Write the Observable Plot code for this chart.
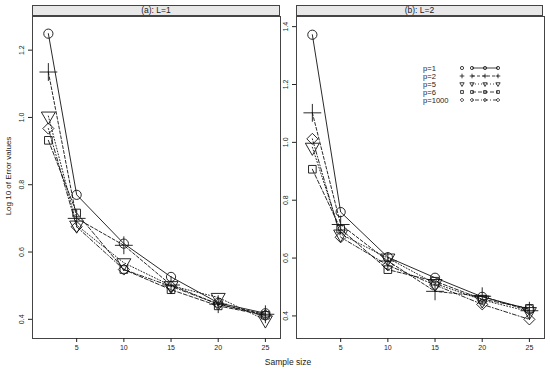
<!DOCTYPE html>
<html>
<head>
<meta charset="utf-8">
<script src="https://cdn.jsdelivr.net/npm/d3@7"></script>
<script src="https://cdn.jsdelivr.net/npm/@observablehq/plot@0.6"></script>
<style>
  html, body { margin: 0; padding: 0; background: #fff; }
  #wrap { position: relative; width: 550px; height: 371px; font-family: "Liberation Sans", Arial, sans-serif; color: #222; overflow: hidden; }
  .panel { position: absolute; top: 0; }
  .strip { position: absolute; top: 5px; height: 11px; background: #e8e8e8; border: 1px solid #444; box-sizing: border-box; font-size: 8.5px; line-height: 9px; text-align: center; }
  .ytitle { position: absolute; left: 8px; top: 176px; transform: translate(-50%, -50%) rotate(-90deg); font-size: 8px; white-space: nowrap; }
  .xtitle { position: absolute; left: 288px; top: 362px; transform: translate(-50%, -50%); font-size: 8.5px; white-space: nowrap; }
  #legend { position: absolute; left: 0; top: 0; }
</style>
</head>
<body>
<div id="wrap"></div>
<script>
// ---- data ----
const sampleSizes = [2, 5, 10, 15, 20, 25];
const seriesNames = ["p=1", "p=2", "p=5", "p=6", "p=1000"];
const panelTitles = ["(a): L=1", "(b): L=2"];
const xTicks = [5, 10, 15, 20, 25];
const yTicksA = [0.4, 0.6, 0.8, 1.0, 1.2];
const yTicksB = [0.4, 0.6, 0.8, 1.0, 1.2, 1.4];

// panel (a): L=1
const a_p1    = [1.249, 0.770, 0.625, 0.526, 0.449, 0.418];
const a_p2    = [1.135, 0.700, 0.620, 0.502, 0.445, 0.415];
const a_p5    = [1.004, 0.680, 0.568, 0.500, 0.465, 0.398];
const a_p6    = [0.932, 0.716, 0.548, 0.488, 0.440, 0.412];
const a_p1000 = [0.967, 0.675, 0.548, 0.498, 0.445, 0.412];

// panel (b): L=2
const b_p1    = [1.372, 0.759, 0.603, 0.532, 0.466, 0.423];
const b_p2    = [1.102, 0.716, 0.590, 0.485, 0.468, 0.418];
const b_p5    = [0.983, 0.683, 0.600, 0.512, 0.455, 0.415];
const b_p6    = [0.907, 0.700, 0.560, 0.520, 0.458, 0.426];
const b_p1000 = [1.012, 0.672, 0.575, 0.507, 0.440, 0.388];

// ---- styles per series ----
const styles = [
  { symbol: "circle",   r: 4.6, rotate: 0,   dash: null },
  { symbol: "plus",     r: 5.8, rotate: 0,   dash: "3,2" },
  { symbol: "triangle", r: 5.2, rotate: 180, dash: "1,2" },
  { symbol: "square",   r: 4.3, rotate: 0,   dash: "4,2" },
  { symbol: "diamond2", r: 5.0, rotate: 0,   dash: "1,2,4,2" }
];

function buildPanel(seriesValues, yDomain, yTicks, left, width) {
  const marks = [Plot.frame({ stroke: "#444" })];
  seriesValues.forEach((vals, i) => {
    const data = sampleSizes.map((x, j) => ({ x, y: vals[j], s: seriesNames[i] }));
    const st = styles[i];
    marks.push(Plot.line(data, { x: "x", y: "y", stroke: "#111", strokeWidth: 0.9, strokeDasharray: st.dash }));
    marks.push(Plot.dot(data, { x: "x", y: "y", symbol: () => st.symbol, r: st.r, rotate: st.rotate, stroke: "#111", strokeWidth: 0.9, fill: "none" }));
  });
  marks.push(Plot.axisX({ ticks: xTicks, tickSize: 4, tickPadding: 3, fontSize: 7 }));
  marks.push(Plot.axisY({ ticks: yTicks, tickFormat: d3.format(".1f"), tickSize: 4, tickPadding: 5, fontSize: 7, tickRotate: -90 }));
  const p = Plot.plot({
    width: width,
    height: 371,
    marginLeft: 32,
    marginRight: width - 32 - 248,
    marginTop: 16,
    marginBottom: 33,
    x: { domain: [0.32, 26.6], label: null },
    y: { domain: yDomain, label: null },
    symbol: { type: "identity" },
    style: { fontFamily: "Liberation Sans, Arial, sans-serif", color: "#222", background: "transparent", overflow: "visible" },
    marks
  });
  p.classList.add("panel");
  p.style.left = left + "px";
  return p;
}

const wrap = document.getElementById("wrap");
wrap.appendChild(buildPanel([a_p1, a_p2, a_p5, a_p6, a_p1000], [0.343, 1.30], yTicksA, 0, 285));
wrap.appendChild(buildPanel([b_p1, b_p2, b_p5, b_p6, b_p1000], [0.322, 1.435], yTicksB, 264, 286));

// strips
[[32, 248], [296, 247]].forEach(([l, w], i) => {
  const d = document.createElement("div");
  d.className = "strip";
  d.style.left = l + "px";
  d.style.width = w + "px";
  d.textContent = panelTitles[i];
  wrap.appendChild(d);
});

// axis titles
const yt = document.createElement("div");
yt.className = "ytitle"; yt.textContent = "Log 10 of Error values";
wrap.appendChild(yt);
const xt = document.createElement("div");
xt.className = "xtitle"; xt.textContent = "Sample size";
wrap.appendChild(xt);

// legend (inside panel b)
const lg = d3.select(wrap).append("svg").attr("id", "legend").attr("width", 550).attr("height", 371)
  .style("font-family", "Liberation Sans, Arial, sans-serif");
const symMap = { circle: d3.symbolCircle, plus: d3.symbolPlus, triangle: d3.symbolTriangle, square: d3.symbolSquare, diamond2: d3.symbolDiamond2 };
seriesNames.forEach((name, i) => {
  const y = 68 + i * 8;
  const st = styles[i];
  lg.append("text").attr("x", 423).attr("y", y).attr("dy", "0.35em").attr("font-size", 7.6).attr("fill", "#222").text(name);
  lg.append("line").attr("x1", 472).attr("x2", 498).attr("y1", y).attr("y2", y)
    .attr("stroke", "#111").attr("stroke-width", 0.8).attr("stroke-dasharray", st.dash);
  const path = d3.symbol(symMap[st.symbol], Math.PI * 1.6 * 1.6)();
  [462, 472, 485, 498].forEach(x => {
    lg.append("path").attr("d", path).attr("transform", `translate(${x},${y}) rotate(${st.rotate})`)
      .attr("fill", "none").attr("stroke", "#111").attr("stroke-width", 0.8);
  });
});
</script>
</body>
</html>
